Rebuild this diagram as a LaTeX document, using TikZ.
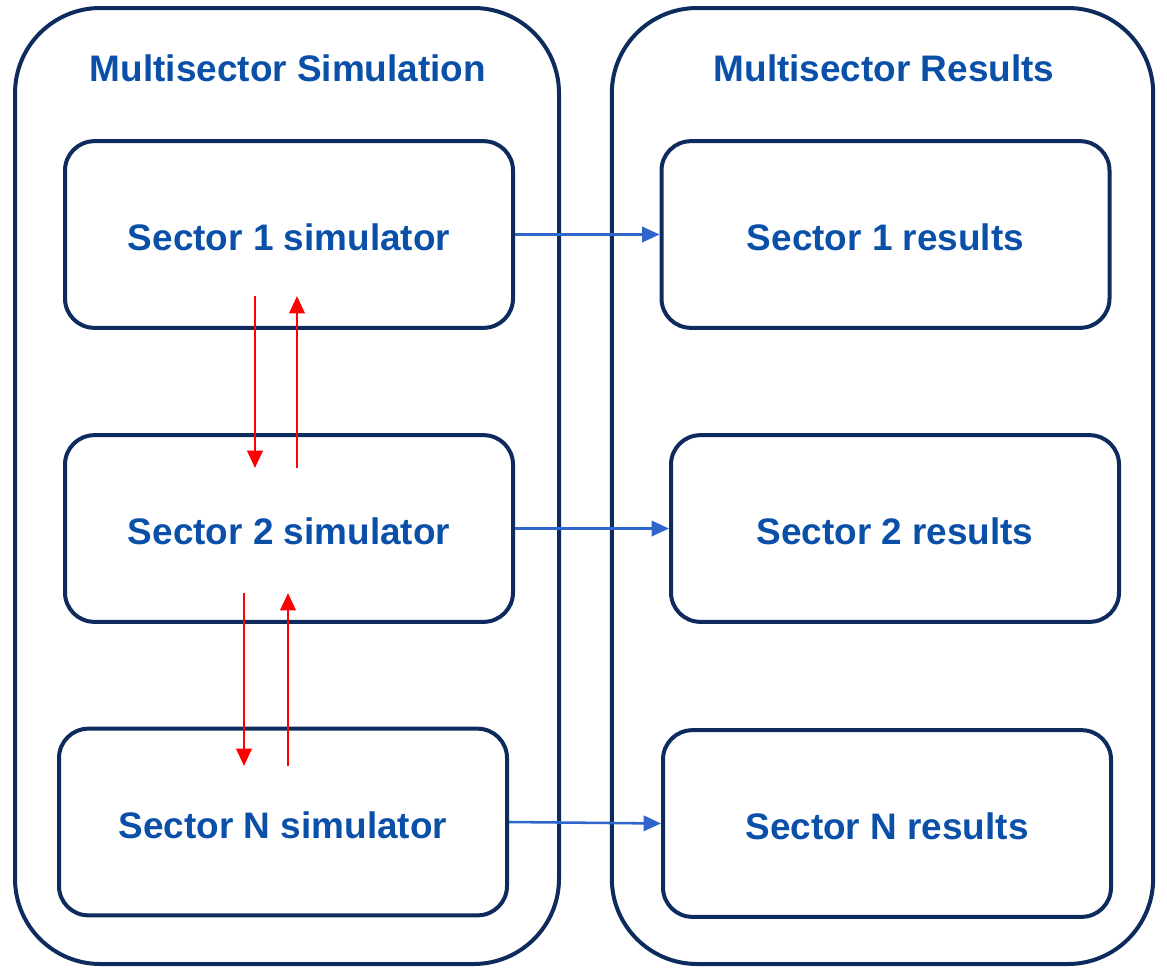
\documentclass[tikz,border=0pt]{standalone}
\usepackage{fontspec}
\setmainfont{Liberation Sans}
\usetikzlibrary{arrows.meta}
\definecolor{navy}{HTML}{0D2B5C}
\definecolor{textblue}{HTML}{0A50A8}
\definecolor{flowblue}{HTML}{2E66CC}
\definecolor{swapred}{HTML}{FF0000}
\tikzset{
  panel/.style={draw=navy, line width=3pt, rounded corners=64pt, fill=none},
  unitbox/.style={draw=navy, line width=3pt, rounded corners=22pt,
    minimum width=336pt, minimum height=140pt, inner sep=0pt,
    text height=24pt, text depth=0pt},
  label/.style={text=textblue, font=\fontsize{27.7}{33}\selectfont\bfseries},
  flow/.style={draw=flowblue, line width=1.9pt, -{Triangle[length=13pt,width=11.5pt]}},
  swap/.style={draw=swapred, line width=2pt, -{Triangle[length=13pt,width=11.5pt]}}
}
\begin{document}
\begin{tikzpicture}[x=0.75pt, y=-0.75pt]
\useasboundingbox (0,0) rectangle (1167,968);

% outer panels
\node[panel, minimum width=408pt, minimum height=717pt] (simpanel) at (287,486) {};
\node[panel, minimum width=406pt, minimum height=717pt] (respanel) at (882.5,486) {};
\node[label] (simtitle) at (288,68) {Multisector Simulation};
\node[label] (restitle) at (884,68) {Multisector Results};

% simulators
\node[unitbox, label] (s1) at (289,234.5) {Sector 1 simulator};
\node[unitbox, label] (s2) at (289,528.5) {Sector 2 simulator};
\node[unitbox, label] (sN) at (283,822) {Sector N simulator};

% results
\node[unitbox, label] (r1) at (885.5,234.5) {Sector 1 results};
\node[unitbox, label] (r2) at (895,528.5) {Sector 2 results};
\node[unitbox, label] (rN) at (887,823.5) {Sector N results};

% simulator outputs
\draw[flow] (s1.east) -- (r1.west);
\draw[flow] (s2.east) -- (r2.west);
\draw[flow] (sN.east) -- (rN.west);

% exchange between neighbouring sectors
\coordinate (d1a) at (255,296);
\coordinate (d1b) at (255,468);
\coordinate (u1a) at (297,468);
\coordinate (u1b) at (297,296);
\coordinate (d2a) at (244,593);
\coordinate (d2b) at (244,766);
\coordinate (u2a) at (288,766);
\coordinate (u2b) at (288,593);
\draw[swap] (d1a) -- (d1b);
\draw[swap] (u1a) -- (u1b);
\draw[swap] (d2a) -- (d2b);
\draw[swap] (u2a) -- (u2b);
\end{tikzpicture}
\end{document}
